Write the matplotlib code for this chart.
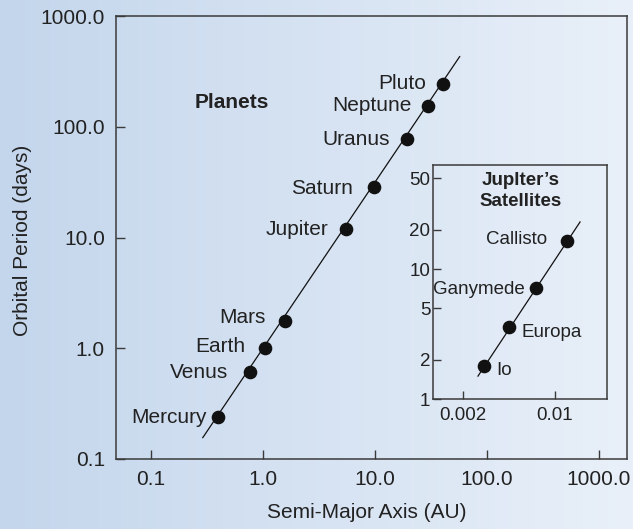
import numpy as np
import matplotlib
matplotlib.use("Agg")
import matplotlib.pyplot as plt

plt.rcParams['font.family'] = ['Liberation Sans', 'DejaVu Sans']

# ---- data ----
planets = ["Mercury", "Venus", "Earth", "Mars", "Jupiter", "Saturn", "Uranus", "Neptune", "Pluto"]
planet_axis = [0.40, 0.76, 1.04, 1.57, 5.5, 9.8, 19.3, 29.7, 40.5]
planet_period = [0.237, 0.61, 1.0, 1.78, 12.0, 28.5, 78.0, 154.0, 242.0]
planet_fit_axis = [0.29, 57.0]
planet_fit_period = [0.156, 430.0]

moons = ["Io", "Europa", "Ganymede", "Callisto"]
moon_axis = [0.0029, 0.0045, 0.0072, 0.0123]
moon_period = [1.8, 3.6, 7.2, 16.5]
moon_fit_axis = [0.0026, 0.0155]
moon_fit_period = [1.5, 23.0]

main_xticks = [0.1, 1, 10, 100, 1000]
main_xticklabels = ["0.1", "1.0", "10.0", "100.0", "1000.0"]
main_yticks = [0.1, 1, 10, 100, 1000]
main_yticklabels = ["0.1", "1.0", "10.0", "100.0", "1000.0"]
inset_xticks = [0.002, 0.01]
inset_xticklabels = ["0.002", "0.01"]
inset_yticks = [1, 2, 5, 10, 20, 50]
inset_yticklabels = ["1", "2", "5", "10", "20", "50"]

# label offsets (pixels) and alignment
planet_offsets = {"Mercury": (-12, -6), "Venus": (-21, -6), "Earth": (-20, -4), "Mars": (-19, -2),
                  "Jupiter": (-18, -6), "Saturn": (-21, -7), "Uranus": (-17, -6),
                  "Neptune": (-16, -5), "Pluto": (-17, -5)}
moon_offsets = {"Io": (12, -9, "left"), "Europa": (12, -10, "left"),
                "Ganymede": (-11, -6, "right"), "Callisto": (-20, -3, "right")}

W, H = 633, 529
fig = plt.figure(figsize=(W / 100, H / 100), dpi=100)

# background gradient
bg = fig.add_axes([0, 0, 1, 1], zorder=0)
c1 = np.array([196, 214, 236]) / 255.0
c2 = np.array([233, 240, 249]) / 255.0
t = np.linspace(0, 1, 256)
grad = (c1[None, :] * (1 - t[:, None]) + c2[None, :] * t[:, None])[None, :, :]
bg.imshow(grad, aspect='auto', extent=[0, 1, 0, 1])
bg.set_axis_off()

txt_c = '#222222'
spine_c = '#3a3a3a'
FS = 15
FS2 = 13.5

# main axes
left, right, bottom, top = 116, 626.5, 459, 16
ax = fig.add_axes([left / W, 1 - bottom / H, (right - left) / W, (bottom - top) / H], zorder=1)
ax.set_facecolor('none')
ax.set_xscale('log')
ax.set_yscale('log')
ax.set_xlim(10 ** (-1 - 35 / 112), 10 ** (-1 + 475.5 / 112))
ax.set_ylim(0.1, 1000)
ax.plot(planet_fit_axis, planet_fit_period, color='#111111', lw=0.9, zorder=2)
ax.plot(planet_axis, planet_period, 'o', color='#111111', ms=8.8, zorder=3)
for name, x, y in zip(planets, planet_axis, planet_period):
    dx, dy = planet_offsets[name]
    ax.annotate(name, (x, y), xytext=(dx, dy), textcoords='offset pixels',
                ha='right', va='baseline', fontsize=FS, color=txt_c)
ax.set_xticks(main_xticks)
ax.set_xticklabels(main_xticklabels)
ax.set_yticks(main_yticks)
ax.set_yticklabels(main_yticklabels)
ax.minorticks_off()
ax.tick_params(direction='in', length=6.5, width=1.0, color=spine_c, labelsize=FS,
               labelcolor=txt_c)
ax.tick_params(axis='x', pad=8)
ax.tick_params(axis='y', pad=8)
for s in ax.spines.values():
    s.set_color(spine_c)
    s.set_linewidth(1.1)
ax.set_xlabel("Semi-Major Axis (AU)", fontsize=FS, color=txt_c)
ax.set_ylabel("Orbital Period (days)", fontsize=FS, color=txt_c)
ax.xaxis.set_label_coords((367 - left) / (right - left), (bottom - 512) / (bottom - top))
ax.xaxis.label.set_va('center')
ax.yaxis.set_label_coords((23 - left) / (right - left), (bottom - 240) / (bottom - top))
ax.yaxis.label.set_va('center')

fig.text(232 / W, 1 - 102 / H, "Planets", fontsize=FS, fontweight='bold',
         ha='center', va='center', color=txt_c)

# inset axes
il, ir, ib, it = 433, 607, 399, 165
ax2 = fig.add_axes([il / W, 1 - ib / H, (ir - il) / W, (ib - it) / H], zorder=2)
ax2.set_facecolor('none')
ax2.set_xscale('log')
ax2.set_yscale('log')
ax2.set_xlim(10 ** (np.log10(0.002) - 30 / 131.6), 10 ** (-2 + 52 / 131.6))
ax2.set_ylim(1, 10 ** (234 / 130))
ax2.plot(moon_fit_axis, moon_fit_period, color='#111111', lw=0.9, zorder=2)
ax2.plot(moon_axis, moon_period, 'o', color='#111111', ms=8.8, zorder=3)
for name, x, y in zip(moons, moon_axis, moon_period):
    dx, dy, ha = moon_offsets[name]
    ax2.annotate(name, (x, y), xytext=(dx, dy), textcoords='offset pixels',
                 ha=ha, va='baseline', fontsize=FS2, color=txt_c)
ax2.set_xticks(inset_xticks)
ax2.set_xticklabels(inset_xticklabels)
ax2.set_yticks(inset_yticks)
ax2.set_yticklabels(inset_yticklabels)
ax2.minorticks_off()
ax2.tick_params(direction='in', length=6, width=1.0, color=spine_c, labelsize=FS2,
                labelcolor=txt_c)
ax2.tick_params(axis='x', pad=6)
ax2.tick_params(axis='y', pad=2)
for s in ax2.spines.values():
    s.set_color(spine_c)
    s.set_linewidth(1.1)

fig.text(521 / W, 1 - 191 / H, "Juplter\u2019s\nSatellites", fontsize=FS2, fontweight='bold',
         ha='center', va='center', color=txt_c, linespacing=1.35)

fig.savefig("out.png", dpi=100)
